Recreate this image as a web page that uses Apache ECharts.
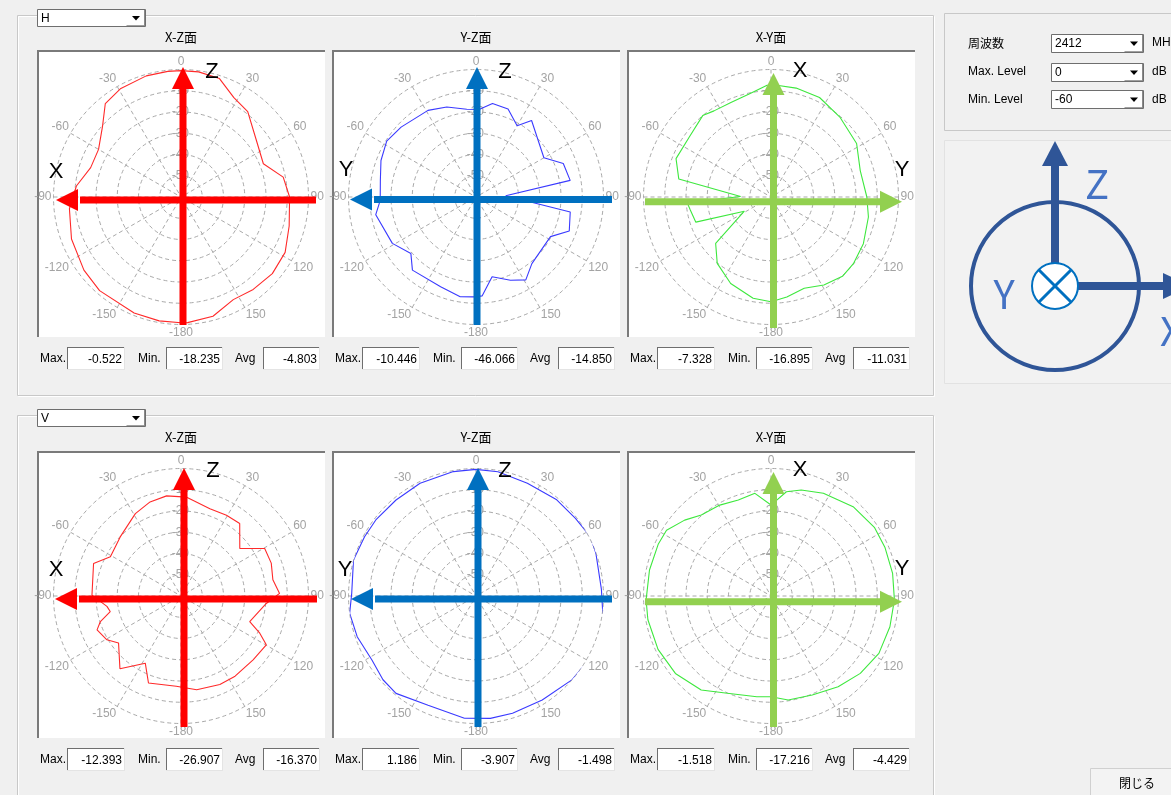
<!DOCTYPE html>
<html><head><meta charset="utf-8">
<script src="https://cdn.jsdelivr.net/npm/echarts@6/dist/echarts.min.js"></script>
<style>html,body{margin:0;padding:0;background:#f0f0f0;overflow:hidden}#c{width:1171px;height:795px}</style>
</head><body><div id="c"></div><script>
// ---------- data ----------
const levelMax = 0, levelMin = -60, levelStep = 10, angleStep = 30;
const frequency = '2412';
const polarizations = ['H', 'V'];
const planeTitles = ['X-Z面', 'Y-Z面', 'X-Y面'];
const statLabels = ['Max.', 'Min.', 'Avg'];
const statsH = [['-0.522', '-18.235', '-4.803'], ['-10.446', '-46.066', '-14.850'], ['-7.328', '-16.895', '-11.031']];
const statsV = [['-12.393', '-26.907', '-16.370'], ['1.186', '-3.907', '-1.498'], ['-1.518', '-17.216', '-4.429']];

// H polarisation
const hxzAngles = [-180,-170,-158,-139,-127,-111,-96,-84,-72,-60,-48,-39,-29,-16,-6,0,8,18,28,38,53,68,79,90,105,118,130,142,153,165,177];
const hxzValues = [-0.8,-0.8,-1.1,-1.6,-2.8,-4.8,-7.2,-10.5,-15.3,-15.2,-10.3,-3.4,-1.6,-0.7,-0.55,-0.52,-0.55,-1.4,-7.0,-9.0,-15.6,-18.2,-11.0,-8.9,-7.3,-4.5,-3.9,-4.8,-5.8,-1.9,-0.8];
const hyzAngles = [-179,-171,-158.5,-139,-131,-119,-100,-92,-80,-69,-58,-47,-29,-18,-6,2,10,20,30,36,60,69,80,87.5,99,110,118,140,149,157.5,168.6,176.4];
const hyzValues = [-13.0,-12.5,-14.6,-14.4,-19.4,-15.0,-12.1,-14.9,-14.3,-12.1,-10.45,-11.8,-13.4,-15.5,-18.5,-18.8,-15.3,-15.9,-21.3,-15.5,-23.1,-16.0,-15.0,-46.0,-15.1,-13.3,-20.3,-19.1,-14.5,-17.6,-21.7,-13.4];
const hxyAngles = [-180,-170,-155,-141,-130,-118,-108.5,-99,-94,-89,-79,-68,-54,-40,-33.5,-23,-12,-2,3,13,26,41,58,73.5,90,101.6,116.8,129,138,149,160,171];
const hxyValues = [-10.7,-11.6,-15.1,-19.8,-26.0,-45.8,-22.7,-21.5,-20.5,-45.7,-15.8,-11.8,-12.3,-10.0,-11.4,-11.7,-10.5,-7.4,-7.33,-7.4,-7.9,-10.4,-12.5,-16.2,-14.9,-13.2,-11.3,-10.1,-9.75,-11.7,-14.3,-12.4];
// V polarisation
const vxzAngles = [-177,-159.5,-152,-140,-127,-120.6,-112,-107.6,-102.4,-98,-89.4,-69.6,-61,-45.8,-29,-18.2,-8.2,3.3,18.3,29.4,39,51,60.4,70,80,88.5,95,110.4,115.3,119.8,131.5,146,156.3,170.5];
const vxzValues = [-17.5,-16.3,-24.2,-15.3,-23.2,-19.5,-17.4,-20.2,-25.9,-24.8,-18.1,-16.1,-22.0,-20.1,-15.7,-13.4,-12.4,-13.4,-16.7,-16.4,-16.1,-24.4,-14.7,-14.8,-16.1,-13.6,-19.7,-25.5,-19.0,-13.75,-14.7,-14.5,-14.5,-15.3];
const vyzAngles = [-174.6,-156.3,-140.6,-132,-121.6,-108.9,-97.8,-88.8,-73.6,-62,-52.8,-39.8,-26.4,-10.3,0,10,24.5,40,52,62.6,70.4,87,100.7,109.6,119,131,147.5,162.7,173.3];
const vyzValues = [-2.2,-3.9,-0.7,-1.1,-2.5,-0.9,0.0,-1.5,0.1,-0.6,-0.8,-1.2,-0.8,-0.5,-0.4,-0.6,-1.7,-0.9,-0.6,0.6,-0.1,-0.9,0.9,1.19,1.1,0.0,-2.0,-2.2,-2.0];
const vxyAngles = [-180,-172,-155.8,-143.4,-129,-115.3,-100.9,-91.8,-77.9,-65.2,-57.8,-48.7,-40.7,-29.4,-18.8,-8.9,0,8.4,15.9,27,42.6,56.4,66.8,79.5,91.8,104.5,118,130.9,143.5,157.4,170.6];
const vxyValues = [-12.6,-12.1,-9.8,-4.9,-2.1,-1.2,-1.0,-1.2,-1.52,-1.6,-1.9,-5.9,-9.7,-10.9,-12.3,-11.1,-17.2,-10.4,-8.1,-5.7,-2.9,-1.6,-1.7,-1.8,-1.9,-2.2,-2.5,-4.4,-6.9,-9.5,-10.4];

const curveColors = ['#ff2a2a', '#3a3aff', '#3ee83e'];
const arrowColors = ['#ff0000', '#0070c0', '#92d050'];

// ---------- layout ----------
const CX = [181, 476, 771], CY = [197, 596];
const PX = [37, 332, 627], PY = [50, 451], PW = 288, PH = 287;
const ROWOFF = [0, 400];
const RADIUS = 127.5;
const UI = '"Liberation Sans", Arial, sans-serif';
const JP = '"Noto Sans CJK JP", "Noto Sans", sans-serif';

const plots = [
  {a: hxzAngles, v: hxzValues}, {a: hyzAngles, v: hyzValues}, {a: hxyAngles, v: hxyValues},
  {a: vxzAngles, v: vxzValues}, {a: vyzAngles, v: vyzValues}, {a: vxyAngles, v: vxyValues}
];
const vArrows = [{x:183,tip:67,end:325},{x:477,tip:67,end:325},{x:773.5,tip:73,end:328},
                 {x:184,tip:468,end:727},{x:478,tip:468,end:727},{x:773.5,tip:472,end:727}];
const hArrows = [{y:200,from:312,tip:56},{y:199.5,from:608,tip:350},{y:201.7,from:645,tip:902},
                 {y:599,from:313,tip:55},{y:599,from:608,tip:351},{y:601.7,from:645,tip:902}];
const axisLetters = [[['Z',212,72],['X',56,172]],[['Z',505,72],['Y',346,170]],[['X',800,71],['Y',902,170]],
                     [['Z',213,471],['X',56,570]],[['Z',505,471],['Y',345,570]],[['X',800,470],['Y',902,569]]];

// ---------- graphic helpers ----------
const G = [];
function R(x,y,w,h,fill,stroke,lw,z){G.push({type:'rect',silent:true,z:z==null?-10:z,shape:{x:x,y:y,width:w,height:h},style:{fill:fill||'none',stroke:stroke||'none',lineWidth:lw||1}});}
function L(x1,y1,x2,y2,stroke,lw,z){G.push({type:'line',silent:true,z:z==null?-9:z,shape:{x1:x1,y1:y1,x2:x2,y2:y2},style:{stroke:stroke,lineWidth:lw||1}});}
function P(points,fill,z){G.push({type:'polygon',silent:true,z:z==null?-9:z,shape:{points:points},style:{fill:fill}});}
function T(x,y,str,font,fill,align,z){G.push({type:'text',silent:true,z:z==null?-8:z,x:x,y:y,style:{text:str,font:font,fill:fill||'#000',align:align||'left',verticalAlign:'middle',textAlign:align||'left',textVerticalAlign:'middle'}});}
function combo(x,y,w,h,val){
  R(x+0.5,y+0.5,w,h,'#fff','#6e6e6e',1);
  L(x+w-18.5,y+h-0.5,x+w,y+h-0.5,'#a0a0a0',1);
  L(x+w-0.5,y+1,x+w-0.5,y+h,'#8a8a8a',1);
  const cx=x+w-9, cy=y+h/2+0.5;
  P([[cx-4,cy-2],[cx+4,cy-2],[cx,cy+2.5]],'#000');
  T(x+4,y+h/2+1,val,'12px '+UI,'#000');
}
function sunkenBox(x,y,w,h,val){
  R(x,y,w,h,'#fff','none');
  L(x,y+0.5,x+w,y+0.5,'#6e6e6e',1);
  L(x+0.5,y,x+0.5,y+h,'#6e6e6e',1);
  L(x,y+h-0.5,x+w,y+h-0.5,'#e4e4e4',1);
  L(x+w-0.5,y,x+w-0.5,y+h,'#e4e4e4',1);
  T(x+w-3,y+h/2+1,val,'12px '+UI,'#000','right');
}

// group boxes
[0,1].forEach(function(row){
  const o = ROWOFF[row];
  R(17.5,15.5+o,916,row===0?380:420,'none','#c8c8c8',1);
  R(18.5,16.5+o,916,row===0?380:420,'none','#ffffff',1,-11);
  combo(37,9+o,108,17,polarizations[row]);
  for(let col=0;col<3;col++){
    const px=PX[col], py=PY[row];
    T(px+PW/2,37+o,planeTitles[col],'13px '+JP,'#000','center');
    R(px,py,PW,PH,'#ffffff','none');
    L(px,py+1,px+PW,py+1,'#7a7a7a',2);
    L(px+1,py,px+1,py+PH,'#7a7a7a',2);
    const st = row===0?statsH[col]:statsV[col];
    const by = py+297;
    T(px+3,by+12,statLabels[0],'12px '+UI,'#000');
    sunkenBox(px+30,by,58,23,st[0]);
    T(px+101,by+12,statLabels[1],'12px '+UI,'#000');
    sunkenBox(px+129,by,57,23,st[1]);
    T(px+198,by+12,statLabels[2],'12px '+UI,'#000');
    sunkenBox(px+226,by,57,23,st[2]);
  }
});

// settings group
R(944.5,13.5,240,117,'none','#c8c8c8',1);
T(968,43,'周波数','12px '+JP,'#000');
T(968,72,'Max. Level','12px '+UI,'#000');
T(968,100,'Min. Level','12px '+UI,'#000');
combo(1051,34,92,18,frequency);
combo(1051,63,92,18,String(levelMax));
combo(1051,90,92,18,String(levelMin));
T(1152,43,'MHz','12px '+UI,'#000');
T(1152,72,'dB','12px '+UI,'#000');
T(1152,100,'dB','12px '+UI,'#000');

// coordinate diagram
R(944.5,140.5,240,243,'#f2f2f2','#e2e2e2',1);
G.push({type:'circle',silent:true,z:-7,shape:{cx:1055,cy:286,r:84},style:{fill:'none',stroke:'#2f5597',lineWidth:4}});
R(1051,164,8,100,'#2f5597','none',1,-7);
P([[1055,141],[1042,166],[1068,166]],'#2f5597',-7);
R(1076,282,90,8,'#2f5597','none',1,-7);
P([[1190,286],[1163,273],[1163,299]],'#2f5597',-7);
G.push({type:'circle',silent:true,z:-6,shape:{cx:1055,cy:286,r:23},style:{fill:'#ffffff',stroke:'#0070c0',lineWidth:2}});
L(1039,270,1071,302,'#0070c0',3,-5);
L(1071,270,1039,302,'#0070c0',3,-5);
T(1097,184,'Z','40px '+JP,'#4472c4','center',-5);
T(1004,294,'Y','40px '+JP,'#4472c4','center',-5);
T(1160,331,'X','40px '+JP,'#4472c4','left',-5);

// close button
R(1090.5,768.5,100,30,'#f3f3f3','#d0d0d0',1);
T(1137,783,'閉じる','12px '+JP,'#000','center');

// arrows + axis letters (foreground)
function vArrow(a,color){
  G.push({type:'rect',silent:true,z:60,shape:{x:a.x-3.5,y:a.tip+20,width:7,height:a.end-a.tip-20},style:{fill:color}});
  G.push({type:'polygon',silent:true,z:60,shape:{points:[[a.x,a.tip],[a.x-11,a.tip+22],[a.x+11,a.tip+22]]},style:{fill:color}});
}
function hArrow(a,color){
  const s = a.tip<a.from?-1:1;
  const hb = a.tip - s*22;
  G.push({type:'rect',silent:true,z:60,shape:{x:Math.min(a.from,hb-s*2),y:a.y-3.5,width:Math.abs(a.from-hb)+2,height:7},style:{fill:color}});
  G.push({type:'polygon',silent:true,z:60,shape:{points:[[a.tip,a.y],[hb,a.y-11],[hb,a.y+11]]},style:{fill:color}});
}
for(let i=0;i<6;i++){
  const c = arrowColors[i%3];
  hArrow(hArrows[i],c);
  vArrow(vArrows[i],c);
  axisLetters[i].forEach(function(t){
    G.push({type:'text',silent:true,z:61,x:t[1],y:t[2],style:{text:t[0],font:'22px '+UI,fill:'#000',align:'center',verticalAlign:'middle',textAlign:'center',textVerticalAlign:'middle'}});
  });
}

// ---------- ECharts option ----------
const polar=[], angleAxis=[], radiusAxis=[], series=[];
const dashed = {color:'#a9a9a9', type:[4,3], width:1};
for(let i=0;i<6;i++){
  const row = Math.floor(i/3), col = i%3;
  polar.push({center:[CX[col], CY[row]], radius:[0, RADIUS]});
  angleAxis.push({
    polarIndex:i, type:'value', min:0, max:360, interval:angleStep, startAngle:90, clockwise:true,
    axisLine:{show:false}, axisTick:{show:false},
    axisLabel:{color:'#a3a3a3', fontSize:12, fontFamily:UI, margin:2,
      formatter:function(v){ if(v===360) return ''; if(v>=180) return String(v-360); return String(v); }},
    splitLine:{show:true, lineStyle:dashed}
  });
  radiusAxis.push({
    polarIndex:i, type:'value', min:levelMin, max:levelMax, interval:levelStep,
    axisLine:{show:false}, axisTick:{show:false},
    axisLabel:{color:'#a3a3a3', fontSize:12, fontFamily:UI, margin:-8,
      formatter:function(v){ return (v===levelMax||v===levelMin)?'':String(v); }},
    splitLine:{show:true, lineStyle:dashed}
  });
  const p = plots[i];
  const data = p.a.map(function(a,k){ return [p.v[k], a<0 ? a+360 : a]; });
  data.push(data[0].slice());
  series.push({type:'line', coordinateSystem:'polar', polarIndex:i, data:data, showSymbol:false, symbol:'none',
    clip:false, silent:true, z:3, lineStyle:{color:curveColors[col], width:1.1}, animation:false});
}

const chart = echarts.init(document.getElementById('c'), null, {renderer:'canvas'});
chart.setOption({
  backgroundColor:'#f0f0f0', animation:false,
  polar:polar, angleAxis:angleAxis, radiusAxis:radiusAxis, series:series,
  graphic:{elements:G}
});
</script></body></html>
